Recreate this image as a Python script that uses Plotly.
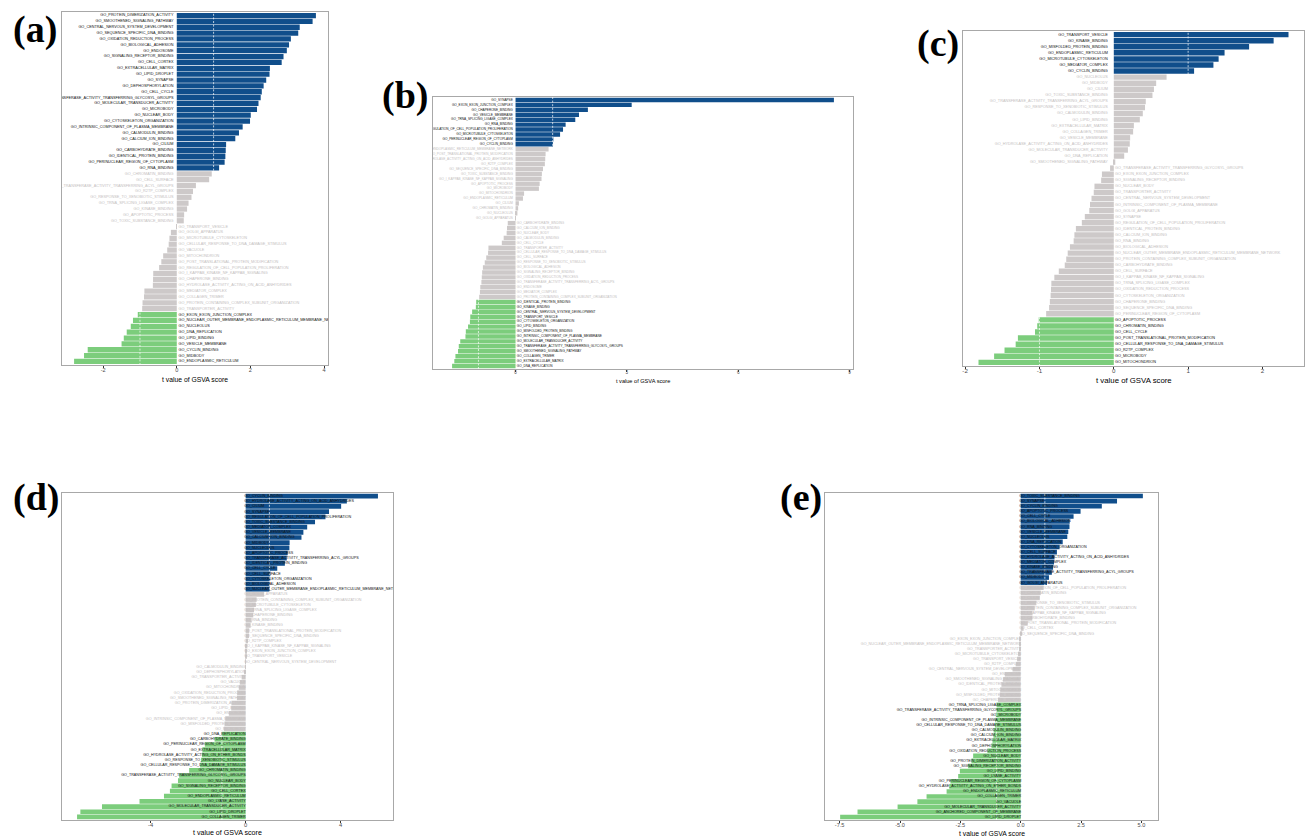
import plotly.graph_objects as go

# ---------------------------------------------------------------------------
# GSVA t values per comparison, listed top (largest t) to bottom (smallest t)
# ---------------------------------------------------------------------------
a_terms = [
    "GO_PROTEIN_DIMERIZATION_ACTIVITY", "GO_SMOOTHENED_SIGNALING_PATHWAY",
    "GO_CENTRAL_NERVOUS_SYSTEM_DEVELOPMENT", "GO_SEQUENCE_SPECIFIC_DNA_BINDING",
    "GO_OXIDATION_REDUCTION_PROCESS", "GO_BIOLOGICAL_ADHESION", "GO_ENDOSOME",
    "GO_SIGNALING_RECEPTOR_BINDING", "GO_CELL_CORTEX", "GO_EXTRACELLULAR_MATRIX",
    "GO_LIPID_DROPLET", "GO_SYNAPSE", "GO_DEPHOSPHORYLATION", "GO_CELL_CYCLE",
    "GO_TRANSFERASE_ACTIVITY_TRANSFERRING_GLYCOSYL_GROUPS",
    "GO_MOLECULAR_TRANSDUCER_ACTIVITY", "GO_MICROBODY", "GO_NUCLEAR_BODY",
    "GO_CYTOSKELETON_ORGANIZATION", "GO_INTRINSIC_COMPONENT_OF_PLASMA_MEMBRANE",
    "GO_CALMODULIN_BINDING", "GO_CALCIUM_ION_BINDING", "GO_CILIUM",
    "GO_CARBOHYDRATE_BINDING", "GO_IDENTICAL_PROTEIN_BINDING",
    "GO_PERINUCLEAR_REGION_OF_CYTOPLASM", "GO_RNA_BINDING", "GO_CHROMATIN_BINDING",
    "GO_CELL_SURFACE", "GO_TRANSFERASE_ACTIVITY_TRANSFERRING_ACYL_GROUPS",
    "GO_R2TP_COMPLEX", "GO_RESPONSE_TO_XENOBIOTIC_STIMULUS",
    "GO_TRNA_SPLICING_LIGASE_COMPLEX", "GO_KINASE_BINDING", "GO_APOPTOTIC_PROCESS",
    "GO_TOXIC_SUBSTANCE_BINDING", "GO_TRANSPORT_VESICLE", "GO_GOLGI_APPARATUS",
    "GO_MICROTUBULE_CYTOSKELETON", "GO_CELLULAR_RESPONSE_TO_DNA_DAMAGE_STIMULUS",
    "GO_VACUOLE", "GO_MITOCHONDRION", "GO_POST_TRANSLATIONAL_PROTEIN_MODIFICATION",
    "GO_REGULATION_OF_CELL_POPULATION_PROLIFERATION",
    "GO_I_KAPPAB_KINASE_NF_KAPPAB_SIGNALING", "GO_CHAPERONE_BINDING",
    "GO_HYDROLASE_ACTIVITY_ACTING_ON_ACID_ANHYDRIDES", "GO_MEDIATOR_COMPLEX",
    "GO_COLLAGEN_TRIMER", "GO_PROTEIN_CONTAINING_COMPLEX_SUBUNIT_ORGANIZATION",
    "GO_TRANSPORTER_ACTIVITY", "GO_EXON_EXON_JUNCTION_COMPLEX",
    "GO_NUCLEAR_OUTER_MEMBRANE_ENDOPLASMIC_RETICULUM_MEMBRANE_NETWORK",
    "GO_NUCLEOLUS", "GO_DNA_REPLICATION", "GO_LIPID_BINDING", "GO_VESICLE_MEMBRANE",
    "GO_CYCLIN_BINDING", "GO_MIDBODY", "GO_ENDOPLASMIC_RETICULUM",
]
a_t = [
    3.78, 3.69, 3.34, 3.30, 3.10, 3.05, 2.99, 2.90, 2.85, 2.53,
    2.52, 2.43, 2.36, 2.31, 2.28, 2.22, 2.18, 2.01, 1.99, 1.79,
    1.69, 1.59, 1.34, 1.33, 1.32, 1.30, 1.15, 0.95, 0.88, 0.52,
    0.44, 0.40, 0.32, 0.28, 0.20, 0.19, -0.01, -0.16, -0.20, -0.22,
    -0.26, -0.37, -0.42, -0.48, -0.64, -0.645, -0.65, -0.88, -0.89, -0.93,
    -0.94, -1.06, -1.19, -1.25, -1.36, -1.44, -1.50, -2.42, -2.52, -2.79,
]

b_terms = [
    "GO_SYNAPSE", "GO_EXON_EXON_JUNCTION_COMPLEX", "GO_CHAPERONE_BINDING",
    "GO_VESICLE_MEMBRANE", "GO_TRNA_SPLICING_LIGASE_COMPLEX", "GO_RNA_BINDING",
    "GO_REGULATION_OF_CELL_POPULATION_PROLIFERATION", "GO_MICROTUBULE_CYTOSKELETON",
    "GO_PERINUCLEAR_REGION_OF_CYTOPLASM", "GO_CYCLIN_BINDING",
    "GO_NUCLEAR_OUTER_MEMBRANE_ENDOPLASMIC_RETICULUM_MEMBRANE_NETWORK",
    "GO_POST_TRANSLATIONAL_PROTEIN_MODIFICATION",
    "GO_HYDROLASE_ACTIVITY_ACTING_ON_ACID_ANHYDRIDES", "GO_R2TP_COMPLEX",
    "GO_SEQUENCE_SPECIFIC_DNA_BINDING", "GO_TOXIC_SUBSTANCE_BINDING",
    "GO_I_KAPPAB_KINASE_NF_KAPPAB_SIGNALING", "GO_APOPTOTIC_PROCESS", "GO_MICROBODY",
    "GO_MITOCHONDRION", "GO_ENDOPLASMIC_RETICULUM", "GO_CILIUM",
    "GO_CHROMATIN_BINDING", "GO_NUCLEOLUS", "GO_GOLGI_APPARATUS",
    "GO_CARBOHYDRATE_BINDING", "GO_CALCIUM_ION_BINDING", "GO_NUCLEAR_BODY",
    "GO_CALMODULIN_BINDING", "GO_CELL_CYCLE", "GO_TRANSPORTER_ACTIVITY",
    "GO_CELLULAR_RESPONSE_TO_DNA_DAMAGE_STIMULUS", "GO_CELL_SURFACE",
    "GO_RESPONSE_TO_XENOBIOTIC_STIMULUS", "GO_BIOLOGICAL_ADHESION",
    "GO_SIGNALING_RECEPTOR_BINDING", "GO_OXIDATION_REDUCTION_PROCESS",
    "GO_TRANSFERASE_ACTIVITY_TRANSFERRING_ACYL_GROUPS", "GO_ENDOSOME",
    "GO_MEDIATOR_COMPLEX", "GO_PROTEIN_CONTAINING_COMPLEX_SUBUNIT_ORGANIZATION",
    "GO_IDENTICAL_PROTEIN_BINDING", "GO_KINASE_BINDING",
    "GO_CENTRAL_NERVOUS_SYSTEM_DEVELOPMENT", "GO_TRANSPORT_VESICLE",
    "GO_CYTOSKELETON_ORGANIZATION", "GO_LIPID_BINDING",
    "GO_MISFOLDED_PROTEIN_BINDING", "GO_INTRINSIC_COMPONENT_OF_PLASMA_MEMBRANE",
    "GO_MOLECULAR_TRANSDUCER_ACTIVITY",
    "GO_TRANSFERASE_ACTIVITY_TRANSFERRING_GLYCOSYL_GROUPS",
    "GO_SMOOTHENED_SIGNALING_PATHWAY", "GO_COLLAGEN_TRIMER",
    "GO_EXTRACELLULAR_MATRIX", "GO_DNA_REPLICATION",
]
b_t = [
    8.58, 3.13, 1.95, 1.71, 1.61, 1.35, 1.28, 1.20, 1.02, 1.01,
    0.89, 0.81, 0.80, 0.79, 0.74, 0.71, 0.70, 0.65, 0.63, 0.23,
    0.20, 0.09, 0.07, 0.05, 0.01, -0.21, -0.23, -0.24, -0.32, -0.37,
    -0.73, -0.74, -0.79, -0.83, -0.88, -0.90, -0.91, -0.92, -0.95, -0.96,
    -0.98, -1.06, -1.07, -1.17, -1.22, -1.23, -1.28, -1.34, -1.35, -1.49,
    -1.53, -1.55, -1.62, -1.65, -1.71,
]

c_terms = [
    "GO_TRANSPORT_VESICLE", "GO_KINASE_BINDING", "GO_MISFOLDED_PROTEIN_BINDING",
    "GO_ENDOPLASMIC_RETICULUM", "GO_MICROTUBULE_CYTOSKELETON", "GO_MEDIATOR_COMPLEX",
    "GO_CYCLIN_BINDING", "GO_NUCLEOLUS", "GO_MIDBODY", "GO_CILIUM",
    "GO_TOXIC_SUBSTANCE_BINDING", "GO_TRANSFERASE_ACTIVITY_TRANSFERRING_ACYL_GROUPS",
    "GO_RESPONSE_TO_XENOBIOTIC_STIMULUS", "GO_CALMODULIN_BINDING", "GO_LIPID_BINDING",
    "GO_EXTRACELLULAR_MATRIX", "GO_COLLAGEN_TRIMER", "GO_VESICLE_MEMBRANE",
    "GO_HYDROLASE_ACTIVITY_ACTING_ON_ACID_ANHYDRIDES",
    "GO_MOLECULAR_TRANSDUCER_ACTIVITY", "GO_DNA_REPLICATION",
    "GO_SMOOTHENED_SIGNALING_PATHWAY",
    "GO_TRANSFERASE_ACTIVITY_TRANSFERRING_GLYCOSYL_GROUPS",
    "GO_EXON_EXON_JUNCTION_COMPLEX", "GO_SIGNALING_RECEPTOR_BINDING",
    "GO_NUCLEAR_BODY", "GO_TRANSPORTER_ACTIVITY",
    "GO_CENTRAL_NERVOUS_SYSTEM_DEVELOPMENT",
    "GO_INTRINSIC_COMPONENT_OF_PLASMA_MEMBRANE", "GO_GOLGI_APPARATUS", "GO_SYNAPSE",
    "GO_REGULATION_OF_CELL_POPULATION_PROLIFERATION", "GO_IDENTICAL_PROTEIN_BINDING",
    "GO_CALCIUM_ION_BINDING", "GO_RNA_BINDING", "GO_BIOLOGICAL_ADHESION",
    "GO_NUCLEAR_OUTER_MEMBRANE_ENDOPLASMIC_RETICULUM_MEMBRANE_NETWORK",
    "GO_PROTEIN_CONTAINING_COMPLEX_SUBUNIT_ORGANIZATION", "GO_CARBOHYDRATE_BINDING",
    "GO_CELL_SURFACE", "GO_I_KAPPAB_KINASE_NF_KAPPAB_SIGNALING",
    "GO_TRNA_SPLICING_LIGASE_COMPLEX", "GO_OXIDATION_REDUCTION_PROCESS",
    "GO_CYTOSKELETON_ORGANIZATION", "GO_CHAPERONE_BINDING",
    "GO_SEQUENCE_SPECIFIC_DNA_BINDING", "GO_PERINUCLEAR_REGION_OF_CYTOPLASM",
    "GO_APOPTOTIC_PROCESS", "GO_CHROMATIN_BINDING", "GO_CELL_CYCLE",
    "GO_POST_TRANSLATIONAL_PROTEIN_MODIFICATION",
    "GO_CELLULAR_RESPONSE_TO_DNA_DAMAGE_STIMULUS", "GO_R2TP_COMPLEX",
    "GO_MICROBODY", "GO_MITOCHONDRION",
]
c_t = [
    2.35, 2.15, 1.82, 1.49, 1.41, 1.34, 1.08, 0.71, 0.57, 0.54,
    0.52, 0.43, 0.42, 0.39, 0.35, 0.27, 0.26, 0.22, 0.215, 0.19,
    0.14, 0.02, -0.05, -0.16, -0.17, -0.26, -0.27, -0.30, -0.32, -0.33,
    -0.39, -0.43, -0.51, -0.53, -0.54, -0.59, -0.62, -0.64, -0.66, -0.74,
    -0.80, -0.84, -0.845, -0.85, -0.86, -0.87, -0.91, -1.01, -1.03, -1.06,
    -1.29, -1.32, -1.47, -1.61, -1.82,
]

d_terms = [
    "GO_CYCLIN_BINDING", "GO_HYDROLASE_ACTIVITY_ACTING_ON_ACID_ANHYDRIDES",
    "GO_CILIUM", "GO_SYNAPSE", "GO_REGULATION_OF_CELL_POPULATION_PROLIFERATION",
    "GO_TOXIC_SUBSTANCE_BINDING", "GO_MEDIATOR_COMPLEX", "GO_VESICLE_MEMBRANE",
    "GO_CALCIUM_ION_BINDING", "GO_MIDBODY", "GO_NUCLEOLUS", "GO_APOPTOTIC_PROCESS",
    "GO_TRANSFERASE_ACTIVITY_TRANSFERRING_ACYL_GROUPS", "GO_IDENTICAL_PROTEIN_BINDING",
    "GO_CELL_CYCLE", "GO_CELL_SURFACE", "GO_CYTOSKELETON_ORGANIZATION",
    "GO_BIOLOGICAL_ADHESION",
    "GO_NUCLEAR_OUTER_MEMBRANE_ENDOPLASMIC_RETICULUM_MEMBRANE_NETWORK",
    "GO_GOLGI_APPARATUS", "GO_PROTEIN_CONTAINING_COMPLEX_SUBUNIT_ORGANIZATION",
    "GO_MICROTUBULE_CYTOSKELETON", "GO_TRNA_SPLICING_LIGASE_COMPLEX",
    "GO_CHAPERONE_BINDING", "GO_RNA_BINDING", "GO_KINASE_BINDING",
    "GO_POST_TRANSLATIONAL_PROTEIN_MODIFICATION", "GO_SEQUENCE_SPECIFIC_DNA_BINDING",
    "GO_R2TP_COMPLEX", "GO_I_KAPPAB_KINASE_NF_KAPPAB_SIGNALING",
    "GO_EXON_EXON_JUNCTION_COMPLEX", "GO_TRANSPORT_VESICLE",
    "GO_CENTRAL_NERVOUS_SYSTEM_DEVELOPMENT", "GO_CALMODULIN_BINDING",
    "GO_DEPHOSPHORYLATION", "GO_TRANSPORTER_ACTIVITY", "GO_VACUOLE",
    "GO_MITOCHONDRION", "GO_OXIDATION_REDUCTION_PROCESS",
    "GO_SMOOTHENED_SIGNALING_PATHWAY", "GO_PROTEIN_DIMERIZATION_ACTIVITY",
    "GO_LIPID_BINDING", "GO_ENDOSOME", "GO_INTRINSIC_COMPONENT_OF_PLASMA_MEMBRANE",
    "GO_MISFOLDED_PROTEIN_BINDING", "GO_MICROBODY", "GO_DNA_REPLICATION",
    "GO_CARBOHYDRATE_BINDING", "GO_PERINUCLEAR_REGION_OF_CYTOPLASM",
    "GO_EXTRACELLULAR_MATRIX", "GO_HYDROLASE_ACTIVITY_ACTING_ON_ETHER_BONDS",
    "GO_RESPONSE_TO_XENOBIOTIC_STIMULUS",
    "GO_CELLULAR_RESPONSE_TO_DNA_DAMAGE_STIMULUS", "GO_CHROMATIN_BINDING",
    "GO_TRANSFERASE_ACTIVITY_TRANSFERRING_GLYCOSYL_GROUPS", "GO_NUCLEAR_BODY",
    "GO_SIGNALING_RECEPTOR_BINDING", "GO_CELL_CORTEX", "GO_ENDOPLASMIC_RETICULUM",
    "GO_LYASE_ACTIVITY", "GO_MOLECULAR_TRANSDUCER_ACTIVITY", "GO_LIPID_DROPLET",
    "GO_COLLAGEN_TRIMER",
]
d_t = [
    5.57, 4.26, 4.02, 3.51, 3.36, 2.92, 2.59, 2.43, 2.35, 1.85,
    1.84, 1.77, 1.73, 1.65, 1.33, 1.04, 1.03, 1.02, 1.01, 0.78,
    0.46, 0.43, 0.35, 0.32, 0.25, 0.21, 0.15, 0.14, 0.10, 0.07,
    0.04, 0.03, 0.01, -0.01, -0.06, -0.17, -0.25, -0.29, -0.36, -0.37,
    -0.60, -0.61, -0.71, -0.86, -0.89, -0.92, -1.01, -1.31, -1.72, -1.82,
    -1.84, -1.88, -1.92, -2.38, -2.80, -2.85, -3.12, -3.19, -3.44, -4.47,
    -6.05, -6.96, -7.10,
]

e_terms = [
    "GO_TOXIC_SUBSTANCE_BINDING", "GO_SYNAPSE", "GO_CYCLIN_BINDING",
    "GO_APOPTOTIC_PROCESS", "GO_CELL_CYCLE", "GO_BIOLOGICAL_ADHESION",
    "GO_RNA_BINDING", "GO_VESICLE_MEMBRANE", "GO_NUCLEOLUS", "GO_DNA_REPLICATION",
    "GO_CYTOSKELETON_ORGANIZATION", "GO_CELL_SURFACE",
    "GO_HYDROLASE_ACTIVITY_ACTING_ON_ACID_ANHYDRIDES", "GO_MEDIATOR_COMPLEX",
    "GO_KINASE_BINDING", "GO_TRANSFERASE_ACTIVITY_TRANSFERRING_ACYL_GROUPS",
    "GO_MIDBODY", "GO_GOLGI_APPARATUS",
    "GO_REGULATION_OF_CELL_POPULATION_PROLIFERATION", "GO_CHROMATIN_BINDING",
    "GO_CILIUM", "GO_RESPONSE_TO_XENOBIOTIC_STIMULUS",
    "GO_PROTEIN_CONTAINING_COMPLEX_SUBUNIT_ORGANIZATION",
    "GO_I_KAPPAB_KINASE_NF_KAPPAB_SIGNALING", "GO_CARBOHYDRATE_BINDING",
    "GO_POST_TRANSLATIONAL_PROTEIN_MODIFICATION", "GO_CELL_CORTEX",
    "GO_SEQUENCE_SPECIFIC_DNA_BINDING", "GO_EXON_EXON_JUNCTION_COMPLEX",
    "GO_NUCLEAR_OUTER_MEMBRANE_ENDOPLASMIC_RETICULUM_MEMBRANE_NETWORK",
    "GO_TRANSPORTER_ACTIVITY", "GO_MICROTUBULE_CYTOSKELETON", "GO_TRANSPORT_VESICLE",
    "GO_R2TP_COMPLEX", "GO_CENTRAL_NERVOUS_SYSTEM_DEVELOPMENT", "GO_ENDOSOME",
    "GO_SMOOTHENED_SIGNALING_PATHWAY", "GO_IDENTICAL_PROTEIN_BINDING",
    "GO_MITOCHONDRION", "GO_MISFOLDED_PROTEIN_BINDING", "GO_CHAPERONE_BINDING",
    "GO_TRNA_SPLICING_LIGASE_COMPLEX",
    "GO_TRANSFERASE_ACTIVITY_TRANSFERRING_GLYCOSYL_GROUPS", "GO_MICROBODY",
    "GO_INTRINSIC_COMPONENT_OF_PLASMA_MEMBRANE",
    "GO_CELLULAR_RESPONSE_TO_DNA_DAMAGE_STIMULUS", "GO_CALMODULIN_BINDING",
    "GO_CALCIUM_ION_BINDING", "GO_EXTRACELLULAR_MATRIX", "GO_DEPHOSPHORYLATION",
    "GO_OXIDATION_REDUCTION_PROCESS", "GO_NUCLEAR_BODY",
    "GO_PROTEIN_DIMERIZATION_ACTIVITY", "GO_SIGNALING_RECEPTOR_BINDING",
    "GO_LIPID_BINDING", "GO_LYASE_ACTIVITY", "GO_PERINUCLEAR_REGION_OF_CYTOPLASM",
    "GO_HYDROLASE_ACTIVITY_ACTING_ON_ETHER_BONDS", "GO_ENDOPLASMIC_RETICULUM",
    "GO_COLLAGEN_TRIMER", "GO_VACUOLE", "GO_MOLECULAR_TRANSDUCER_ACTIVITY",
    "GO_ANCHORED_COMPONENT_OF_MEMBRANE", "GO_LIPID_DROPLET",
]
e_t = [
    5.06, 3.99, 3.36, 2.48, 2.19, 2.03, 2.02, 1.97, 1.93, 1.74,
    1.61, 1.50, 1.40, 1.38, 1.34, 1.29, 1.17, 1.09, 0.95, 0.83,
    0.79, 0.65, 0.58, 0.49, 0.48, 0.29, 0.12, 0.06, -0.03, -0.04,
    -0.07, -0.11, -0.15, -0.21, -0.34, -0.66, -0.74, -0.80, -0.85, -0.87,
    -0.94, -1.01, -1.02, -1.03, -1.05, -1.07, -1.12, -1.13, -1.17, -1.21,
    -1.38, -1.97, -2.04, -2.18, -2.52, -2.59, -2.91, -2.96, -3.07, -3.90,
    -4.28, -5.10, -6.76, -7.48,
]

# tick positions and labels of each panel's t axis
a_ticks, a_ticklabels = [-2, 0, 2, 4], ["-2", "0", "2", "4"]
b_ticks, b_ticklabels = [0, 3, 6, 9], ["0", "3", "6", "9"]
c_ticks, c_ticklabels = [-2, -1, 0, 1, 2], ["-2", "-1", "0", "1", "2"]
d_ticks, d_ticklabels = [-4, 0, 4], ["-4", "0", "4"]
e_ticks, e_ticklabels = [-7.5, -5, -2.5, 0, 2.5, 5], ["-7.5", "-5.0", "-2.5", "0.0", "2.5", "5.0"]

panel_tags = ["(a)", "(b)", "(c)", "(d)", "(e)"]
x_title = "t value of GSVA score"
CUTOFF = 1.0

# ---------------------------------------------------------------------------
# page geometry and styling
# ---------------------------------------------------------------------------
W, H = 1306, 839
UP_COL = "#104E8B"
DOWN_COL = "#7CCD7C"
NS_COL = "#CDC9C9"
NS_TXT = "#C4C0C0"
SIG_TXT = "#111111"
FRAME = "#A8A8A8"

panels = [
    dict(terms=a_terms, t=a_t, ticks=a_ticks, ticklabels=a_ticklabels,
         frame=(62, 12, 328, 365), same_side=False, pos_pad=3.3, neg_pad=1.7,
         lab_size=3.8, tick_size=5.6, title_size=6.8, title_y=379, tag_xy=(35, 30)),
    dict(terms=b_terms, t=b_t, ticks=b_ticks, ticklabels=b_ticklabels,
         frame=(433, 97, 853, 369), same_side=False, pos_pad=2.7, neg_pad=1.3,
         lab_size=3.15, tick_size=4.6, title_size=5.6, title_y=381, tag_xy=(405, 95)),
    dict(terms=c_terms, t=c_t, ticks=c_ticks, ticklabels=c_ticklabels,
         frame=(963, 31, 1304, 366), same_side=False, pos_pad=6.0, neg_pad=1.3,
         lab_size=3.8, tick_size=6.2, title_size=7.8, title_y=380, tag_xy=(938, 44)),
    dict(terms=d_terms, t=d_t, ticks=d_ticks, ticklabels=d_ticklabels,
         frame=(62, 493, 393, 820), same_side=True, pos_pad=-1.5, neg_pad=0.0,
         lab_size=3.7, tick_size=5.8, title_size=7.1, title_y=833, tag_xy=(36, 497)),
    dict(terms=e_terms, t=e_t, ticks=e_ticks, ticklabels=e_ticklabels,
         frame=(825, 493, 1158, 820), same_side=True, pos_pad=-1.5, neg_pad=-0.5,
         lab_size=3.7, tick_size=5.6, title_size=6.8, title_y=833, tag_xy=(801, 497)),
]

fig = go.Figure()
layout = dict(
    width=W, height=H, margin=dict(l=0, r=0, t=0, b=0),
    paper_bgcolor="white", plot_bgcolor="white", showlegend=False,
    font=dict(family="Liberation Sans, Arial, sans-serif"),
)
annotations = []

for k, p in enumerate(panels, start=1):
    sfx = "" if k == 1 else str(k)
    xa, ya = "x" + sfx, "y" + sfx
    terms, t = p["terms"], p["t"]
    n = len(t)
    ypos = [n - 1 - i for i in range(n)]

    lo, hi = min(min(t), 0), max(max(t), 0)
    span = hi - lo
    xr = [lo - 0.05 * span, hi + 0.05 * span]
    left, top, right, bottom = p["frame"]
    px_per_unit = (right - left) / (xr[1] - xr[0])

    bar_cols = [UP_COL if v > CUTOFF else DOWN_COL if v < -CUTOFF else NS_COL for v in t]
    txt_cols = [SIG_TXT if abs(v) > CUTOFF else NS_TXT for v in t]

    fig.add_trace(go.Bar(
        x=t, y=ypos, orientation="h", width=0.9,
        marker=dict(color=bar_cols, line=dict(width=0)),
        xaxis=xa, yaxis=ya, hoverinfo="skip",
    ))

    # dashed reference lines at the significance cutoff
    for v in (-CUTOFF, CUTOFF):
        fig.add_trace(go.Scatter(
            x=[v, v], y=[-0.6, n - 0.4], mode="lines",
            line=dict(color="white", width=0.7, dash="2px,1.6px"),
            xaxis=xa, yaxis=ya, hoverinfo="skip",
        ))

    # term labels anchored at zero
    pos_i = [i for i in range(n) if t[i] >= 0]
    neg_i = [i for i in range(n) if t[i] < 0]
    pos_off = p["pos_pad"] / px_per_unit
    neg_off = p["neg_pad"] / px_per_unit
    if p["same_side"]:
        pos_x, pos_tp = pos_off, "middle right"
        neg_x, neg_tp = -neg_off, "middle left"
    else:
        pos_x, pos_tp = -pos_off, "middle left"
        neg_x, neg_tp = neg_off, "middle right"
    for idx, xx, tp in ((pos_i, pos_x, pos_tp), (neg_i, neg_x, neg_tp)):
        fig.add_trace(go.Scatter(
            x=[xx] * len(idx), y=[ypos[i] for i in idx],
            text=[terms[i] for i in idx], mode="text", textposition=tp,
            textfont=dict(size=p["lab_size"], color=[txt_cols[i] for i in idx],
                          family="Liberation Sans, Arial, sans-serif"),
            cliponaxis=True, xaxis=xa, yaxis=ya, hoverinfo="skip",
        ))

    layout["xaxis" + sfx] = dict(
        domain=[left / W, right / W], range=xr, anchor=ya,
        tickvals=p["ticks"], ticktext=p["ticklabels"],
        ticks="outside", ticklen=2, tickwidth=0.5, tickcolor="#333333",
        ticklabelstandoff=-3,
        tickfont=dict(size=p["tick_size"], color="#4D4D4D"),
        showline=True, mirror=True, linecolor=FRAME, linewidth=0.8,
        showgrid=False, zeroline=False,
    )
    layout["yaxis" + sfx] = dict(
        domain=[1 - bottom / H, 1 - top / H], range=[-0.6, n - 0.4], anchor=xa,
        showticklabels=False, ticks="", showline=True, mirror=True,
        linecolor=FRAME, linewidth=0.8, showgrid=False, zeroline=False,
    )

    annotations.append(dict(
        text=x_title, xref="paper", yref="paper",
        x=(left + right) / 2 / W, y=1 - p["title_y"] / H,
        xanchor="center", yanchor="middle", showarrow=False,
        font=dict(size=p["title_size"], color="black"),
    ))
    tx, ty = p["tag_xy"]
    annotations.append(dict(
        text="<b>" + panel_tags[k - 1] + "</b>", xref="paper", yref="paper",
        x=tx / W, y=1 - ty / H, xanchor="center", yanchor="middle", showarrow=False,
        font=dict(size=38, color="black", family="Liberation Serif, Times New Roman, serif"),
    ))

layout["annotations"] = annotations
fig.update_layout(**layout)
fig.write_html("out.html")
